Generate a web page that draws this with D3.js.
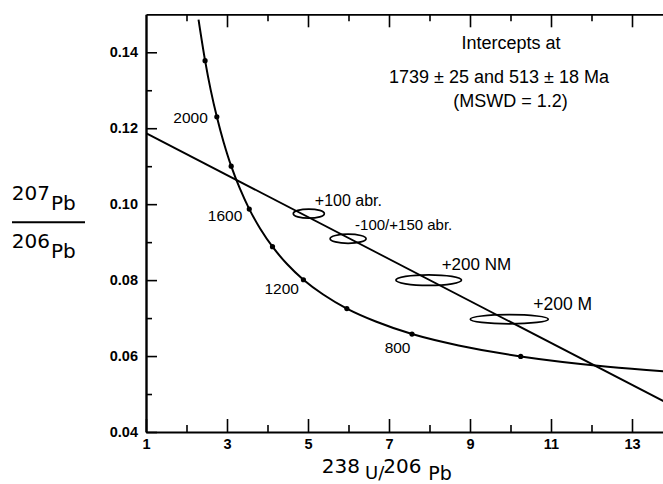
<!DOCTYPE html>
<html>
<head>
<meta charset="utf-8">
<script src="https://cdn.jsdelivr.net/npm/d3@7"></script>
<style>
  html, body { margin: 0; padding: 0; background: #fff; }
  svg { display: block; }
  text { fill: #000; }
</style>
</head>
<body>
<svg id="chart" width="663" height="484"></svg>
<script>
// Tera-Wasserburg concordia: age (Ma), 238U/206Pb, 207Pb/206Pb
const concordiaAge = [2330, 2200, 2100, 2000, 1900, 1800, 1700, 1600, 1500, 1400, 1300, 1200, 1100, 1000, 900, 800, 700, 600, 500, 400];
const concordiaX   = [2.297, 2.459, 2.597, 2.749, 2.917, 3.104, 3.314, 3.550, 3.817, 4.123, 4.476, 4.887, 5.375, 5.959, 6.674, 7.568, 8.718, 10.252, 12.399, 15.62];
const concordiaY   = [0.1486, 0.1378, 0.1301, 0.1230, 0.1163, 0.1100, 0.1042, 0.0987, 0.0936, 0.0888, 0.0843, 0.0801, 0.0762, 0.0725, 0.0691, 0.0658, 0.0628, 0.0599, 0.0572, 0.0547];

// Age ticks marked on the concordia, and the ones that carry a label
const markerAges = [2200, 2000, 1800, 1600, 1400, 1200, 1000, 800, 600];
const labelledAges = [2000, 1600, 1200, 800];

// Discordia through the upper (1739 Ma) and lower (513 Ma) intercepts
const discordiaX = [1, 14];
const discordiaY = [0.1187, 0.0469];

// Zircon fractions: centre and error half-widths
const spotNames = ["+100 abr.", "-100/+150 abr.", "+200 NM", "+200 M"];
const spotX  = [5.02, 5.99, 7.98, 9.97];
const spotY  = [0.0975, 0.0909, 0.0800, 0.0697];
const spotSX = [0.383, 0.444, 0.81, 0.963];
const spotSY = [0.0012, 0.0012, 0.0014, 0.0012];

// Axis ticks
const xMajor = [1, 3, 5, 7, 9, 11, 13];
const xMinor = [2, 4, 6, 8, 10, 12, 14];
const yMajor = [0.04, 0.06, 0.08, 0.10, 0.12, 0.14];
const yMinor = [0.05, 0.07, 0.09, 0.11, 0.13];

const resultLines = ["Intercepts at", "1739 \u00b1 25 and 513 \u00b1 18 Ma", "(MSWD = 1.2)"];

// ---------------------------------------------------------------
const svg = d3.select("#chart");
const plot = { left: 146, right: 672.5, top: 14.3, bottom: 432 };

const x = d3.scaleLinear().domain([1, 14]).range([plot.left, plot.right]);
const y = d3.scaleLinear().domain([0.04, 0.15]).range([plot.bottom, plot.top]);

svg.append("defs").append("clipPath").attr("id", "plotclip")
  .append("rect")
  .attr("x", plot.left).attr("y", plot.top)
  .attr("width", plot.right - plot.left).attr("height", plot.bottom - plot.top);

const tickFont = "'Liberation Sans', Arial, sans-serif";

function styleAxis(g, width) {
  g.select(".domain").attr("stroke", "#000").attr("stroke-width", width);
  g.selectAll(".tick line").attr("stroke", "#000").attr("stroke-width", 1.6);
  g.selectAll(".tick text")
    .attr("fill", "#000")
    .style("font-family", tickFont)
    .style("font-size", "14.5px")
    .style("font-weight", "bold");
}

// bottom axis
const gb = svg.append("g").attr("transform", `translate(0,${plot.bottom})`)
  .call(d3.axisBottom(x).tickValues(xMajor).tickSizeInner(-13).tickSizeOuter(0)
    .tickPadding(7).tickFormat(d3.format("d")));
styleAxis(gb, 2.2);
const gbm = svg.append("g").attr("transform", `translate(0,${plot.bottom})`)
  .call(d3.axisBottom(x).tickValues(xMinor).tickSizeInner(-7).tickSizeOuter(0).tickFormat(""));
gbm.select(".domain").remove();
styleAxis(gbm, 0);

// top axis
const gt = svg.append("g").attr("transform", `translate(0,${plot.top})`)
  .call(d3.axisTop(x).tickValues(xMajor.slice(1)).tickSizeInner(-13).tickSizeOuter(0).tickFormat(""));
styleAxis(gt, 1.8);
const gtm = svg.append("g").attr("transform", `translate(0,${plot.top})`)
  .call(d3.axisTop(x).tickValues(xMinor).tickSizeInner(-7).tickSizeOuter(0).tickFormat(""));
gtm.select(".domain").remove();
styleAxis(gtm, 0);

// left axis
const gl = svg.append("g").attr("transform", `translate(${plot.left},0)`)
  .call(d3.axisLeft(y).tickValues(yMajor).tickSizeInner(-11).tickSizeOuter(0)
    .tickPadding(8).tickFormat(d3.format(".2f")));
styleAxis(gl, 2.4);
const glm = svg.append("g").attr("transform", `translate(${plot.left},0)`)
  .call(d3.axisLeft(y).tickValues(yMinor).tickSizeInner(-6).tickSizeOuter(0).tickFormat(""));
glm.select(".domain").remove();
styleAxis(glm, 0);

// ---------------------------------------------------------------
const layer = svg.append("g").attr("clip-path", "url(#plotclip)");

const concordia = concordiaAge.map((a, i) => ({ age: a, x: concordiaX[i], y: concordiaY[i] }))
  .sort((a, b) => a.x - b.x);

layer.append("path")
  .datum(concordia)
  .attr("fill", "none")
  .attr("stroke", "#000")
  .attr("stroke-width", 2)
  .attr("d", d3.line().x(d => x(d.x)).y(d => y(d.y)).curve(d3.curveCatmullRom.alpha(0.5)));

layer.append("path")
  .datum(discordiaX.map((v, i) => ({ x: v, y: discordiaY[i] })))
  .attr("fill", "none")
  .attr("stroke", "#000")
  .attr("stroke-width", 1.8)
  .attr("d", d3.line().x(d => x(d.x)).y(d => y(d.y)));

const markers = concordia.filter(d => markerAges.includes(d.age));
layer.selectAll("circle.age")
  .data(markers)
  .join("circle")
  .attr("class", "age")
  .attr("cx", d => x(d.x))
  .attr("cy", d => y(d.y))
  .attr("r", 2.6)
  .attr("fill", "#000");

// age labels sit to the lower left of their tick
const ageLabelOffset = { 2000: [-9, 6], 1600: [-7, 11.5], 1200: [-4.5, 14.5], 800: [-1.5, 18.5] };
svg.selectAll("text.agelabel")
  .data(concordia.filter(d => labelledAges.includes(d.age)))
  .join("text")
  .attr("class", "agelabel")
  .attr("x", d => x(d.x) + ageLabelOffset[d.age][0])
  .attr("y", d => y(d.y) + ageLabelOffset[d.age][1])
  .attr("text-anchor", "end")
  .style("font-family", tickFont)
  .style("font-size", "15.5px")
  .text(d => d.age);

// error ellipses
const spots = spotNames.map((n, i) => ({ name: n, x: spotX[i], y: spotY[i], sx: spotSX[i], sy: spotSY[i] }));
layer.selectAll("ellipse.spot")
  .data(spots)
  .join("ellipse")
  .attr("class", "spot")
  .attr("cx", d => x(d.x))
  .attr("cy", d => y(d.y))
  .attr("rx", d => x(d.x + d.sx) - x(d.x))
  .attr("ry", d => y(d.y) - y(d.y + d.sy))
  .attr("fill", "none")
  .attr("stroke", "#000")
  .attr("stroke-width", 1.7);

const spotLabelStyle = [
  { dx: 6, dy: -8, size: 16 },
  { dx: 7, dy: -9, size: 15 },
  { dx: 13, dy: -10, size: 17 },
  { dx: 24, dy: -9, size: 17.5 }
];
svg.selectAll("text.spotlabel")
  .data(spots)
  .join("text")
  .attr("class", "spotlabel")
  .attr("x", (d, i) => x(d.x) + spotLabelStyle[i].dx)
  .attr("y", (d, i) => y(d.y) + spotLabelStyle[i].dy)
  .style("font-family", tickFont)
  .style("font-size", (d, i) => spotLabelStyle[i].size + "px")
  .text(d => d.name);

// intercept result block
const resultPos = [[511, 49], [499, 83], [510.5, 107]];
svg.selectAll("text.result")
  .data(resultLines)
  .join("text")
  .attr("class", "result")
  .attr("x", (d, i) => resultPos[i][0])
  .attr("y", (d, i) => resultPos[i][1])
  .attr("text-anchor", "middle")
  .style("font-family", tickFont)
  .style("font-size", "18px")
  .text(d => d);

// ---------------------------------------------------------------
// axis titles with isotope mass numbers set large
const titleFont = "'DejaVu Sans', sans-serif";
function put(txt, px, py, size) {
  svg.append("text").attr("x", px).attr("y", py)
    .style("font-family", titleFont).style("font-size", size + "px").text(txt);
}
// y: 207Pb / 206Pb
put("207", 11.7, 200, 20);
put("Pb", 51, 210, 20);
svg.append("line").attr("x1", 12).attr("x2", 85).attr("y1", 222.3).attr("y2", 222.3)
  .attr("stroke", "#000").attr("stroke-width", 2);
put("206", 11.7, 247.7, 20);
put("Pb", 51, 258, 20);
// x: 238U / 206Pb
put("238", 321.7, 472.5, 20);
put("U/", 365, 479, 18);
put("206", 383.3, 472.5, 20);
put("Pb", 428.3, 479.5, 19);
</script>
</body>
</html>
